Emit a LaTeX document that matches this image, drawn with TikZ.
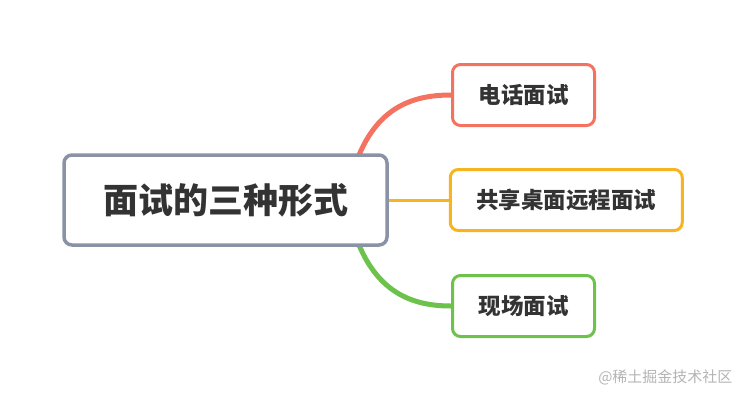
\documentclass[tikz,border=0pt]{standalone}
\usepackage{fontspec}
\setmainfont{Noto Sans CJK SC}
\usetikzlibrary{positioning,calc,backgrounds}

\definecolor{rootline}{HTML}{8A93A5}
\definecolor{txtgray}{HTML}{333333}
\definecolor{phonered}{HTML}{F47260}
\definecolor{sharegold}{HTML}{F6B51E}
\definecolor{sitegreen}{HTML}{6CC24A}
\definecolor{markgray}{HTML}{B4B4B4}

\begin{document}
\begin{tikzpicture}[
        x=1pt, y=-1pt,
        topic/.style={draw=rootline, fill=white, line width=3.5pt, rounded corners=8pt,
            minimum width=323pt, minimum height=90pt, text=txtgray,
            font=\fontsize{35}{40}\selectfont\bfseries},
        subtopic/.style={fill=white, line width=3pt, rounded corners=8pt,
            minimum height=61pt, text=txtgray, inner xsep=25pt,
            font=\fontsize{22.5}{26}\selectfont\bfseries},
        branch/.style={line width=5pt, line cap=round}
    ]
        \useasboundingbox (0,0) rectangle (745,400);

        % Central topic
        \node[topic] (root) at (225.5,200) {面试的三种形式};

        % Sub topics
        \node[subtopic, draw=phonered, anchor=west, minimum width=142pt] (phone) at (451,95) {电话面试};
        \node[subtopic, draw=sharegold, right=60pt of root, minimum width=232pt] (share) {共享桌面远程面试};
        \node[subtopic, draw=sitegreen, anchor=west, minimum width=142pt] (site) at (451,306) {现场面试};

        % Branches
        \begin{scope}[on background layer]
            \draw[branch, phonered] ($(root.north east)+(-33,10)$) .. controls +(20,-55) and +(-40,0) .. (phone.west);
            \draw[line width=3pt, sharegold] (root.east) -- (share.west);
            \draw[branch, sitegreen] ($(root.south east)+(-33,-10)$) .. controls +(20,55) and +(-40,0) .. (site.west);
        \end{scope}

        % Watermark
        \node[text=markgray, font=\fontsize{15}{18}\selectfont, anchor=east] (mark) at (736,377) {@稀土掘金技术社区};
    \end{tikzpicture}
\end{document}
